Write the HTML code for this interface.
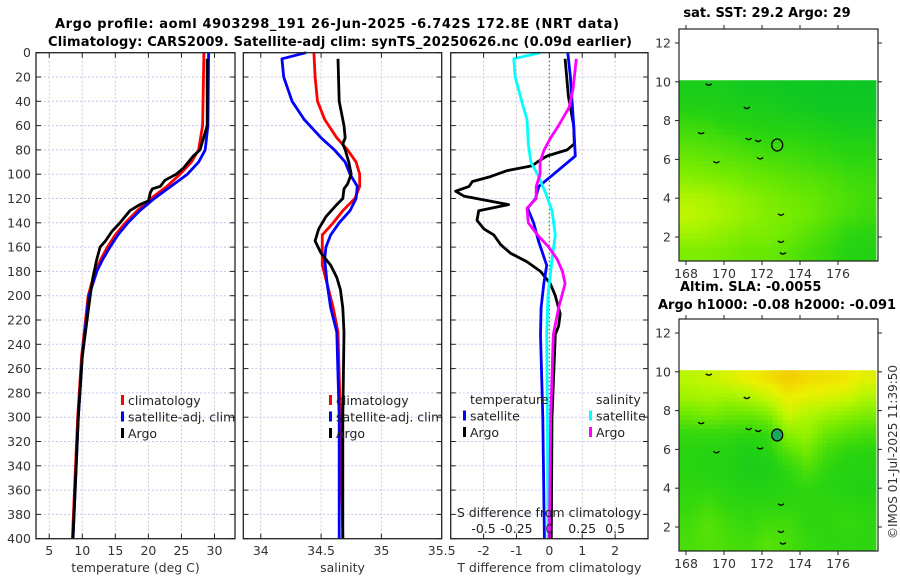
<!DOCTYPE html>
<html><head><meta charset="utf-8">
<style>
html,body{margin:0;padding:0;background:#fff;}
svg{display:block;font-family:"DejaVu Sans","Liberation Sans",sans-serif;}
</style></head>
<body>
<svg id="fig" width="900" height="580" viewBox="0 0 900 580" xmlns="http://www.w3.org/2000/svg">
<g>
<text x="337" y="28" text-anchor="middle" font-size="13" font-weight="bold" textLength="564">Argo profile: aoml 4903298_191 26-Jun-2025 -6.742S 172.8E (NRT data)</text>
<text x="340" y="46" text-anchor="middle" font-size="13" font-weight="bold" textLength="584">Climatology: CARS2009. Satellite-adj clim: synTS_20250626.nc (0.09d earlier)</text>
</g>
<text x="767" y="17" text-anchor="middle" font-size="13" font-weight="bold">sat. SST: 29.2 Argo: 29</text>
<text x="680" y="291" font-size="13" font-weight="bold">Altim. SLA: -0.0055</text>
<text x="658" y="309" font-size="13" font-weight="bold">Argo h1000: -0.08 h2000: -0.091</text>
<text transform="translate(897,452) rotate(-90)" text-anchor="middle" font-size="12" fill="#333">©IMOS 01-Jul-2025 11:39:50</text>
<g id="layer"></g>
</svg>
<script>
// ---- depth levels & series data ----
const tempArgoDepth=[5,60,80,85,95,100,105,110,112,115,122,125,130,140,147,155,160,170,185,200,250,300,400];
const tempArgo=[28.9,28.9,27.8,26.8,25.3,24.2,22.5,21.8,20.6,20.3,20.0,18.7,17.2,15.7,14.5,13.5,12.7,12.2,11.6,11.2,10.0,9.4,8.6];
const climDepth=[0,60,80,90,100,110,120,130,140,150,160,170,180,190,200,250,300,350,400];
const tempClim=[28.4,28.2,27.6,26.5,24.8,22.8,20.4,18.3,16.5,15.0,13.8,12.8,12.0,11.4,10.9,9.9,9.3,8.9,8.5];
const tempSat=[29.1,29.0,28.6,27.6,25.9,23.4,20.9,18.7,16.9,15.4,14.2,13.1,12.2,11.6,11.0,10.0,9.4,9.0,8.6];
const salArgoDepth=[5,40,60,70,75,80,90,100,108,112,120,125,135,145,155,165,175,185,195,210,230,300,400];
const salArgo=[34.64,34.65,34.69,34.70,34.68,34.70,34.73,34.75,34.72,34.69,34.68,34.63,34.54,34.48,34.45,34.50,34.58,34.63,34.66,34.68,34.69,34.68,34.68];
const salClimDepth=[0,20,40,55,70,80,90,100,110,120,130,140,150,160,175,190,210,230,300,400];
const salClim=[34.44,34.45,34.47,34.53,34.63,34.72,34.79,34.82,34.82,34.78,34.68,34.60,34.51,34.51,34.51,34.55,34.60,34.64,34.66,34.68];
const salSatDepth=[0,5,20,40,55,70,80,90,100,110,120,130,140,150,160,170,190,210,230,300,400];
const salSat=[34.375,34.175,34.19,34.26,34.36,34.50,34.61,34.70,34.74,34.80,34.79,34.74,34.65,34.58,34.54,34.53,34.55,34.58,34.63,34.65,34.65];
const dTArgoDepth=[5,36,60,75,80,85,90,93,97,102,106,110,114,118,125,130,138,145,150,158,165,172,180,190,200,215,225,232,300,400];
const dTArgo=[0.48,0.58,0.74,0.76,0.54,-0.07,-0.37,-0.52,-1.28,-1.79,-2.34,-2.44,-2.85,-2.6,-1.24,-2.15,-2.2,-1.99,-1.69,-1.48,-1.18,-0.68,-0.27,0.03,0.18,0.33,0.28,0.18,0.08,0.06];
const dTSatDepth=[0,20,60,85,100,110,120,128,140,155,175,190,210,232,300,400];
const dTSat=[0.56,0.64,0.74,0.79,0.13,-0.32,-0.42,-0.66,-0.48,-0.33,-0.08,-0.17,-0.25,-0.27,-0.2,-0.15];
const dSSatDepth=[0,5,20,40,55,75,90,100,115,130,150,170,200,232,300,400];
const dSSat=[-0.07,-0.27,-0.26,-0.21,-0.17,-0.16,-0.14,-0.09,-0.03,0.02,0.045,0.02,-0.01,-0.02,-0.015,-0.01];
const dSArgoDepth=[5,30,45,60,70,80,90,100,110,120,128,140,150,160,170,180,190,210,232,300,400];
const dSArgo=[0.205,0.18,0.15,0.07,0.01,-0.04,-0.07,-0.07,-0.1,-0.1,-0.17,-0.16,-0.09,-0.005,0.06,0.1,0.12,0.07,0.03,0.01,0.0];
const depthTicks=[0,20,40,60,80,100,120,140,160,180,200,220,240,260,280,300,320,340,360,380,400];
const tempTicks=[5,10,15,20,25,30];
const salTicks=[34,34.5,35,35.5];
const dTTicks=[-2,-1,0,1,2];
const dSTicks=[-0.5,-0.25,0,0.25,0.5];
// ---- map data (values 0..1 on colour scale), rows lat 10 -> 1, cols lon 168 -> 177 ----
const sstGrid=[
[0.2,0.2,0.18,0.15,0.15,0.12,0.12,0.1,0.1,0.1],
[0.26,0.25,0.22,0.2,0.2,0.16,0.15,0.12,0.12,0.12],
[0.36,0.34,0.3,0.28,0.26,0.26,0.24,0.2,0.18,0.18],
[0.44,0.42,0.4,0.36,0.34,0.34,0.32,0.3,0.26,0.26],
[0.52,0.5,0.47,0.45,0.42,0.4,0.38,0.35,0.32,0.32],
[0.6,0.58,0.56,0.52,0.5,0.47,0.45,0.42,0.38,0.36],
[0.7,0.68,0.64,0.6,0.56,0.52,0.5,0.46,0.42,0.38],
[0.74,0.7,0.66,0.62,0.58,0.55,0.52,0.46,0.4,0.36],
[0.66,0.64,0.6,0.56,0.56,0.52,0.46,0.4,0.32,0.3],
[0.56,0.56,0.54,0.5,0.5,0.46,0.4,0.35,0.28,0.26]];
const slaGrid=[
[0.72,0.75,0.8,0.85,0.9,0.97,0.92,0.9,0.88,0.82],
[0.66,0.68,0.66,0.7,0.76,0.86,0.82,0.8,0.78,0.7],
[0.5,0.55,0.5,0.5,0.56,0.76,0.7,0.65,0.6,0.55],
[0.34,0.34,0.34,0.32,0.34,0.6,0.64,0.5,0.44,0.4],
[0.3,0.28,0.28,0.22,0.28,0.44,0.54,0.38,0.32,0.3],
[0.3,0.28,0.26,0.2,0.22,0.32,0.42,0.32,0.28,0.27],
[0.32,0.32,0.3,0.27,0.27,0.3,0.32,0.3,0.27,0.25],
[0.34,0.38,0.32,0.32,0.32,0.32,0.32,0.32,0.32,0.3],
[0.38,0.44,0.38,0.34,0.38,0.38,0.32,0.32,0.34,0.32],
[0.4,0.44,0.4,0.38,0.44,0.4,0.34,0.32,0.32,0.32]];
const latTicks=[2,4,6,8,10,12];
const lonTicks=[168,170,172,174,176];
const argoLon=172.8, argoLat=6.742;

const NS='http://www.w3.org/2000/svg';
const layer=document.getElementById('layer');
function mk(tag,attrs,parent){const e=document.createElementNS(NS,tag);for(const k in attrs)e.setAttribute(k,attrs[k]);(parent||layer).appendChild(e);return e;}
const Y0=52.7, YS=1.215;
function yD(d){return Y0+d*YS;}
const YB=yD(400);

function panel(name,x0,x1,xmin,xmax){
  const g=mk('g',{});
  
  
  return {g,x0,x1,sx:v=>x0+(v-xmin)/(xmax-xmin)*(x1-x0)};
}
function grid(p,xt){
  depthTicks.forEach(d=>{
    const l=mk('line',{x1:p.x0,x2:p.x1,y1:yD(d),y2:yD(d),stroke:'#c4c8ec','stroke-width':1,'stroke-dasharray':'2,2'},p.g);
    
    
  });
  xt.forEach(v=>{const x=p.sx(v); if(x<=p.x0+1||x>=p.x1-1)return;
    const l=mk('line',{x1:x,x2:x,y1:Y0,y2:YB,stroke:'#d8c4d4','stroke-width':1,'stroke-dasharray':'2,2'},p.g);
    
    
  });
}
function frame(p,xt,labels,title,leftLabels){
  const r=mk('rect',{x:p.x0,y:Y0,width:p.x1-p.x0,height:YB-Y0,fill:'none',stroke:'#222','stroke-width':1.3},p.g);
  
  
  depthTicks.forEach(d=>{
    mk('line',{x1:p.x0,x2:p.x0+5,y1:yD(d),y2:yD(d),stroke:'#222'},p.g);
    mk('line',{x1:p.x1-5,x2:p.x1,y1:yD(d),y2:yD(d),stroke:'#222'},p.g);
    if(leftLabels){const t=mk('text',{x:p.x0-5,y:yD(d)+4.5,'text-anchor':'end','font-size':12.5,fill:'#333'},p.g);t.textContent=d;
      
      }
  });
  xt.forEach((v,i)=>{const x=p.sx(v);
    if(x>p.x0+1&&x<p.x1-1){mk('line',{x1:x,x2:x,y1:Y0,y2:Y0+5,stroke:'#222'},p.g);mk('line',{x1:x,x2:x,y1:YB-5,y2:YB,stroke:'#222'},p.g);}
    const t=mk('text',{x:x,y:555,'text-anchor':'middle','font-size':12.5,fill:'#333'},p.g);t.textContent=labels[i];
    
    
  });
  const tt=mk('text',{x:(p.x0+p.x1)/2,y:572,'text-anchor':'middle','font-size':12.5,fill:'#333'},p.g);tt.textContent=title;
  
  
}
function series(p,name,depths,vals,color,sx){
  const f=sx||p.sx;
  const pts=depths.map((d,i)=>f(vals[i]).toFixed(1)+','+yD(d).toFixed(1)).join(' ');
  const l=mk('polyline',{points:pts,fill:'none',stroke:color,'stroke-width':2.8,'stroke-linejoin':'round'},p.g);
  
  
}
function legend(g,x,y,items){
  items.forEach((it,i)=>{
    const yy=y+i*16.5;
    if(it.c){const m=mk('rect',{x:x,y:yy-10,width:3,height:10,fill:it.c},g);
      
      }
    const t=mk('text',{x:x+7,y:yy,'font-size':12.5,fill:'#222'},g);t.textContent=it.t;
    
    
  });
}
// panel 1: temperature
const p1=panel('temperature-panel',36,235,3.0,33.1);
grid(p1,tempTicks);
series(p1,'temp-climatology-line',climDepth,tempClim,'#f00');
series(p1,'temp-satellite-line',climDepth,tempSat,'#00f');
series(p1,'temp-argo-line',tempArgoDepth,tempArgo,'#000');
frame(p1,tempTicks,tempTicks.map(String),'temperature (deg C)',true);
legend(p1.g,121,405,[{t:'climatology',c:'#f00'},{t:'satellite-adj. clim',c:'#00f'},{t:'Argo',c:'#000'}]);
// panel 2: salinity
const p2=panel('salinity-panel',243.3,441.7,33.855,35.5);
grid(p2,salTicks);
series(p2,'sal-climatology-line',salClimDepth,salClim,'#f00');
series(p2,'sal-satellite-line',salSatDepth,salSat,'#00f');
series(p2,'sal-argo-line',salArgoDepth,salArgo,'#000');
frame(p2,salTicks,['34','34.5','35','35.5'],'salinity',false);
legend(p2.g,329,405,[{t:'climatology',c:'#f00'},{t:'satellite-adj. clim',c:'#00f'},{t:'Argo',c:'#000'}]);
// panel 3: differences
const p3=panel('difference-panel',450.7,648,-3,3);
const sxS=v=>p3.sx(v*4);
grid(p3,[-2,-1,1,2]);
mk('line',{x1:p3.sx(0),x2:p3.sx(0),y1:Y0,y2:YB,stroke:'#556b2f','stroke-width':1.2,'stroke-dasharray':'1.5,2.5'},p3.g);
series(p3,'dT-argo-line',dTArgoDepth,dTArgo,'#000');
series(p3,'dT-satellite-line',dTSatDepth,dTSat,'#00f');
series(p3,'dS-satellite-line',dSSatDepth,dSSat,'#0ff',sxS);
series(p3,'dS-argo-line',dSArgoDepth,dSArgo,'#f0f',sxS);
frame(p3,dTTicks,['-2','-1','0','1','2'],'T difference from climatology',false);
(function(){const g=p3.g;
  const t=mk('text',{x:549,y:517,'text-anchor':'middle','font-size':12.5,fill:'#222'},g);t.textContent='S difference from climatology';
  
  
  dSTicks.forEach((v,i)=>{const tl=mk('text',{x:sxS(v),y:533,'text-anchor':'middle','font-size':12.5,fill:'#222'},g);tl.textContent=['-0.5','-0.25','0','0.25','0.5'][i];
    
    });
  legend(g,463,404,[{t:'temperature'},{t:'satellite',c:'#00f'},{t:'Argo',c:'#000'}]);
  legend(g,589,404,[{t:'salinity'},{t:'satellite',c:'#0ff'},{t:'Argo',c:'#f0f'}]);
})();

// ---- maps ----
const cmapStops=[[0,[0,192,48]],[0.3,[40,212,16]],[0.55,[120,236,0]],[0.72,[184,246,0]],[0.85,[236,240,0]],[1,[244,196,0]]];
function cmap(v){v=Math.max(0,Math.min(1,v));for(let i=1;i<cmapStops.length;i++){if(v<=cmapStops[i][0]){const a=cmapStops[i-1],b=cmapStops[i],t=(v-a[0])/(b[0]-a[0]);return 'rgb('+a[1].map((c,k)=>Math.round(c+(b[1][k]-c)*t)).join(',')+')';}}return 'rgb(244,196,0)';}
function drawMap(name,top,gridArr,filled){
  const x0=679,x1=878,y1=top+232;
  const lx=v=>686+(v-168)*19, ly=v=>(top+14)+(12-v)*19.4;
  const g=mk('g',{});
  
  
  const dx0=x0,dx1=876,dy0=ly(10.08),dy1=y1;
  const R=gridArr.length,C=gridArr[0].length,sub=4;
  const NR=R*sub,NC=C*sub,cw=(dx1-dx0)/NC,ch=(dy1-dy0)/NR;
  for(let i=0;i<NR;i++)for(let j=0;j<NC;j++){
    const fr=Math.min(R-1,Math.max(0,(i+0.5)/sub-0.5)),fc=Math.min(C-1,Math.max(0,(j+0.5)/sub-0.5));
    const r0=Math.floor(fr),c0=Math.floor(fc),r1=Math.min(R-1,r0+1),c1=Math.min(C-1,c0+1),tr=fr-r0,tc=fc-c0;
    const v=gridArr[r0][c0]*(1-tr)*(1-tc)+gridArr[r0][c1]*(1-tr)*tc+gridArr[r1][c0]*tr*(1-tc)+gridArr[r1][c1]*tr*tc;
    const c=mk('rect',{x:(dx0+j*cw).toFixed(2),y:(dy0+i*ch).toFixed(2),width:(cw+0.4).toFixed(2),height:(ch+0.4).toFixed(2),fill:cmap(v)},g);
    
    
  }
  [[169.2,9.9],[171.2,8.7],[171.3,7.1],[171.8,7.0],[169.6,5.9],[168.8,7.4],[173.0,3.2],[173.0,1.8],[173.1,1.2],[171.9,6.1]].forEach(([a,b])=>{
    const s=mk('path',{d:'M'+(lx(a)-3)+','+ly(b)+' q3,3 6,0',stroke:'#000','stroke-width':1.3,fill:'none'},g);
    
    
  });
  const c=mk('ellipse',{cx:lx(argoLon),cy:ly(argoLat),rx:5.5,ry:6,fill:filled?'#1aa85a':'none',stroke:'#000','stroke-width':1.3},g);
  
  
  const fr=mk('rect',{x:x0,y:top,width:x1-x0,height:y1-top,fill:'none',stroke:'#222','stroke-width':1.2},g);
  
  
  latTicks.forEach(v=>{const y=ly(v);
    mk('line',{x1:x0-4,x2:x0,y1:y,y2:y,stroke:'#222'},g);mk('line',{x1:x1,x2:x1+4,y1:y,y2:y,stroke:'#222'},g);
    const t=mk('text',{x:x0-8,y:y+4.5,'text-anchor':'end','font-size':12.5,fill:'#333'},g);t.textContent=v;
    
    });
  lonTicks.forEach(v=>{const x=lx(v);
    mk('line',{x1:x,x2:x,y1:top-4,y2:top,stroke:'#222'},g);mk('line',{x1:x,x2:x,y1:y1,y2:y1+4,stroke:'#222'},g);
    const t=mk('text',{x:x,y:y1+17,'text-anchor':'middle','font-size':12.5,fill:'#333'},g);t.textContent=v;
    
    });
}
drawMap('sst-map',29,sstGrid,false);
drawMap('sla-map',319,slaGrid,true);
</script>
</body></html>
